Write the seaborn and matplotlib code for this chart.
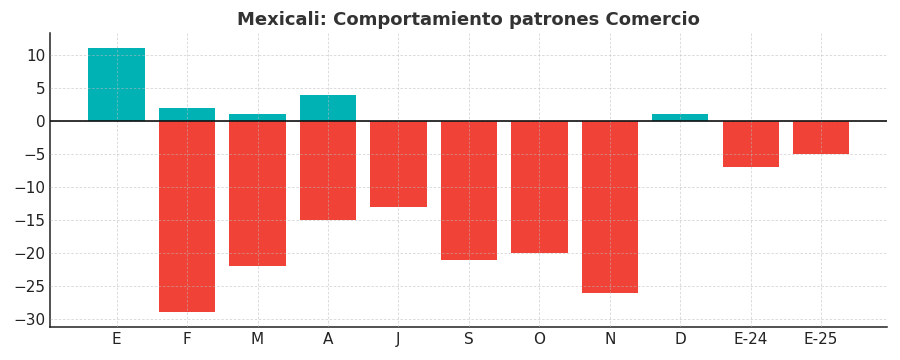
import matplotlib
matplotlib.use("Agg")
import matplotlib.pyplot as plt
import seaborn as sns
import pandas as pd

# data
meses = ["E", "F", "M", "A", "J", "S", "O", "N", "D", "E-24", "E-25"]
positivos = [11, 2, 1, 4, 0, 0, 0, 0, 1, 0, 0]
negativos = [0, -29, -22, -15, -13, -21, -20, -26, 0, -7, -5]

df = pd.DataFrame({"mes": meses, "pos": positivos, "neg": negativos})

sns.set_style("white")
plt.rcParams["font.family"] = ["DejaVu Sans"]

fig = plt.figure(figsize=(9, 3.6), dpi=100)
ax = fig.add_axes([0.056, 0.092, 0.93, 0.816])

sns.barplot(data=df, x="mes", y="pos", color="#00b2b3", saturation=1, width=0.8,
            linewidth=0, ax=ax)
sns.barplot(data=df, x="mes", y="neg", color="#f04236", saturation=1, width=0.8,
            linewidth=0, ax=ax)

ax.set_xlim(-0.94, len(meses) - 1 + 0.94)
ax.set_ylim(-31.2, 13.3)
ax.set_yticks(range(-30, 11, 5))

ax.grid(True, linestyle=(0, (3, 2)), color="#bbbbbb", linewidth=0.6, alpha=0.6)
ax.set_axisbelow(False)
ax.axhline(0, color="#111111", linewidth=1.2, zorder=5)

for s in ["top", "right"]:
    ax.spines[s].set_visible(False)
for s in ["left", "bottom"]:
    ax.spines[s].set_color("#222222")
    ax.spines[s].set_linewidth(1.1)

ax.tick_params(direction="in", length=4, labelsize=11, colors="#222222")
ax.set_xlabel("")
ax.set_ylabel("")
ax.set_title("Mexicali: Comportamiento patrones Comercio", fontsize=13,
             fontweight="bold", color="#333333")

fig.savefig("out.png", dpi=100)
